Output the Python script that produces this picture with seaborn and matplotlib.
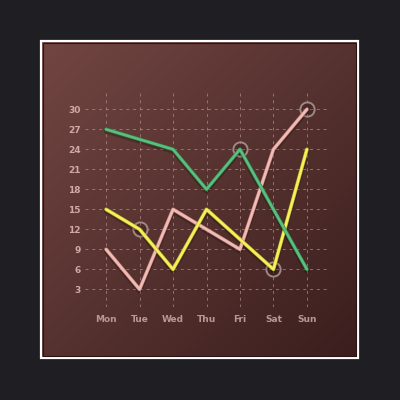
import numpy as np
import pandas as pd
import matplotlib
matplotlib.use("Agg")
import matplotlib.pyplot as plt
from matplotlib.patches import Rectangle
import seaborn as sns

# data
days = ["Mon", "Tue", "Wed", "Thu", "Fri", "Sat", "Sun"]
green_vals = [27, 25.5, 24, 18, 24, 15, 6]
yellow_vals = [15, 12, 6, 15, 10.5, 6, 24]
pink_vals = [9, 3, 15, 12, 9, 24, 30]
y_ticks = [3, 6, 9, 12, 15, 18, 21, 24, 27, 30]
# highlighted points (hollow rings)
ring_days = ["Tue", "Fri", "Sat", "Sun"]
ring_vals = [12, 24, 6, 30]

series_colors = {"pink": "#f4bab4", "yellow": "#f6f05a", "green": "#5cbf7e"}
edge_colors = {"pink": "#b98680", "yellow": "#b4ae30", "green": "#2f8650"}

df = pd.DataFrame({
    "day": days * 3,
    "value": pink_vals + yellow_vals + green_vals,
    "series": ["pink"] * 7 + ["yellow"] * 7 + ["green"] * 7,
})
df["pos"] = df["day"].map({d: i for i, d in enumerate(days)})

sns.set_style("dark")
plt.rcParams["font.family"] = ["DejaVu Sans"]

fig = plt.figure(figsize=(4, 4), dpi=100)
fig.patch.set_facecolor("#1e1e23")

# panel with diagonal gradient
bg = fig.add_axes([0.1025, 0.105, 0.7925, 0.7925])
gx, gy = np.meshgrid(np.linspace(0, 1, 200), np.linspace(0, 1, 200))
t = (gx + gy) / 2
c0 = np.array([0x72, 0x46, 0x42]) / 255
c1 = np.array([0x3a, 0x1e, 0x1d]) / 255
img = c0[None, None, :] * (1 - t[..., None]) + c1[None, None, :] * t[..., None]
bg.imshow(img, extent=[0, 1, 0, 1], aspect="auto", origin="upper")
bg.set_axis_off()
fig.patches.append(Rectangle((0.1025, 0.105), 0.7925, 0.7925, transform=fig.transFigure,
                             fill=False, edgecolor="white", linewidth=1.6, zorder=5))
fig.patches.append(Rectangle((0.1065, 0.109), 0.7845, 0.7845, transform=fig.transFigure,
                             fill=False, edgecolor="#2a1514", linewidth=0.8, zorder=5))

ax = fig.add_axes([0.2125, 0.2325, 0.605, 0.5425])
ax.set_facecolor("none")

# rings sit under the lines
ring_pos = [days.index(d) for d in ring_days]
ax.scatter(ring_pos, ring_vals, s=105, facecolor=(0, 0, 0, 0.15), edgecolor="#a08684",
           linewidth=1.4, zorder=1.5)

for name in ["pink", "yellow", "green"]:
    sub = df[df["series"] == name]
    # soft shadow and darker rim under each line
    ax.plot(sub["pos"], sub["value"] - 0.3, color="black", alpha=0.22, linewidth=3.4,
            solid_joinstyle="round", zorder=2)
    ax.plot(sub["pos"], sub["value"], color=edge_colors[name], linewidth=2.7,
            solid_joinstyle="round", solid_capstyle="round", zorder=3)
    sns.lineplot(data=sub, x="pos", y="value", color=series_colors[name], linewidth=1.8,
                 ax=ax, zorder=3, legend=False, sort=False)

ax.set_xlim(-0.63, 6.6)
ax.set_ylim(0.35, 32.9)
ax.set_xticks(range(len(days)))
ax.set_xticklabels(days)
ax.set_yticks(y_ticks)
ax.set_xlabel("")
ax.set_ylabel("")
ax.grid(True, color="#b48e8a", linestyle=(0, (3, 4)), linewidth=0.7, alpha=0.7)
ax.set_axisbelow(True)
for s in ax.spines.values():
    s.set_visible(False)
ax.tick_params(axis="y", length=0, pad=3, labelsize=6.5, labelcolor="#d0aaa4")
ax.tick_params(axis="x", length=0, pad=6, labelsize=6.5, labelcolor="#b89894")
for lbl in ax.get_xticklabels() + ax.get_yticklabels():
    lbl.set_fontweight("bold")

fig.savefig("out.png", dpi=100, facecolor=fig.get_facecolor())
